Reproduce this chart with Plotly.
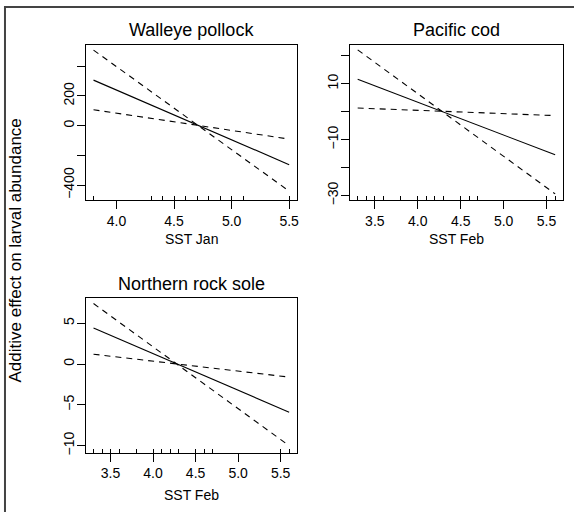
import plotly.graph_objects as go

# ---------------- data ----------------
species = ["Walleye pollock", "Pacific cod", "Northern rock sole"]
x_labels = ["SST Jan", "SST Feb", "SST Feb"]

# endpoints of the fitted linear terms (x, fit, upper/lower 2*SE bands)
x_pollock = [3.8, 5.5]
fit_pollock = [306, -262]
band_steep_pollock = [508, -440]
band_flat_pollock = [107, -90]

x_cod = [3.3, 5.6]
fit_cod = [11.6, -15.4]
band_steep_cod = [22.1, -29.4]
band_flat_cod = [1.3, -1.4]

x_sole = [3.3, 5.6]
fit_sole = [4.4, -5.9]
band_steep_sole = [7.4, -10.0]
band_flat_sole = [1.2, -1.6]

# rug (observed covariate values)
rug_jan = [3.8, 4.3, 4.4, 4.5, 4.6, 4.7, 4.8, 4.9, 5.0, 5.1, 5.5]
rug_feb = [3.3, 3.4, 3.5, 3.6, 3.8, 4.0, 4.1, 4.2, 4.3, 4.5, 4.6, 4.7, 5.5, 5.6]

# tick values / labels
xticks_jan = [4.0, 4.5, 5.0, 5.5]
xticks_feb = [3.5, 4.0, 4.5, 5.0, 5.5]
yticks_pollock = [-400, -200, 0, 200, 400]
ytext_pollock = ["\u2212400", "", "0", "200", ""]
yticks_cod = [-30, -20, -10, 0, 10, 20]
ytext_cod = ["\u221230", "", "\u221210", "", "10", ""]
yticks_sole = [-10, -5, 0, 5]
ytext_sole = ["\u221210", "\u22125", "0", "5"]

# axis ranges
xrange_jan = [3.732, 5.568]
xrange_feb = [3.208, 5.692]
yrange_pollock = [-500, 545]
yrange_cod = [-31.6, 24.0]
yrange_sole = [-10.84, 8.13]

# ---------------- layout geometry ----------------
W, H = 576, 517
def px_x(p): return p / W
def px_y(p): return 1 - p / H

dom = {
    1: ([px_x(86), px_x(298)], [px_y(202), px_y(45)]),
    2: ([px_x(351), px_x(565)], [px_y(202), px_y(45)]),
    3: ([px_x(86), px_x(298)], [px_y(457), px_y(300.5)]),
}

FONT = "Liberation Sans, Arial, Helvetica, sans-serif"
fig = go.Figure()

panels = [
    (1, x_pollock, fit_pollock, band_steep_pollock, band_flat_pollock),
    (2, x_cod, fit_cod, band_steep_cod, band_flat_cod),
    (3, x_sole, fit_sole, band_steep_sole, band_flat_sole),
]
for k, xs, fit, b1, b2 in panels:
    xa = "x" if k == 1 else f"x{k}"
    ya = "y" if k == 1 else f"y{k}"
    fig.add_trace(go.Scatter(x=xs, y=fit, mode="lines", xaxis=xa, yaxis=ya,
                             line=dict(color="black", width=1.1), showlegend=False, hoverinfo="skip"))
    for b in (b1, b2):
        fig.add_trace(go.Scatter(x=xs, y=b, mode="lines", xaxis=xa, yaxis=ya,
                                 line=dict(color="black", width=1.1, dash="6px,5px"),
                                 showlegend=False, hoverinfo="skip"))

tickfont = dict(family=FONT, size=14, color="black")

def xaxis_cfg(k, rng, ticks):
    return dict(domain=dom[k][0], anchor="y" if k == 1 else f"y{k}", range=rng,
                tickvals=ticks, ticktext=[f"{t:.1f}" for t in ticks],
                ticks="outside", ticklen=8, tickwidth=1, tickcolor="black",
                showline=True, linecolor="black", linewidth=1, mirror=True,
                showgrid=False, zeroline=False, tickfont=tickfont, fixedrange=True)

def yaxis_cfg(k, rng, vals, text):
    return dict(domain=dom[k][1], anchor="x" if k == 1 else f"x{k}", range=rng,
                tickvals=vals, ticktext=text, tickangle=-90, ticklabelstandoff=-3,
                ticks="outside", ticklen=8, tickwidth=1, tickcolor="black",
                showline=True, linecolor="black", linewidth=1, mirror=True,
                showgrid=False, zeroline=False, tickfont=tickfont, fixedrange=True)

def rug_cfg(k, rng, vals):
    return dict(domain=dom[k][0], anchor="y" if k == 1 else f"y{k}",
                overlaying="x" if k == 1 else f"x{k}", side="bottom", range=rng,
                tickvals=vals, showticklabels=False, ticks="inside", ticklen=4,
                tickwidth=1, tickcolor="black", showline=False, showgrid=False,
                zeroline=False, fixedrange=True)

fig.update_layout(
    width=W, height=H, margin=dict(l=0, r=0, t=0, b=0),
    paper_bgcolor="white", plot_bgcolor="white",
    xaxis=xaxis_cfg(1, xrange_jan, xticks_jan),
    xaxis2=xaxis_cfg(2, xrange_feb, xticks_feb),
    xaxis3=xaxis_cfg(3, xrange_feb, xticks_feb),
    yaxis=yaxis_cfg(1, yrange_pollock, yticks_pollock, ytext_pollock),
    yaxis2=yaxis_cfg(2, yrange_cod, yticks_cod, ytext_cod),
    yaxis3=yaxis_cfg(3, yrange_sole, yticks_sole, ytext_sole),
    xaxis4=rug_cfg(1, xrange_jan, rug_jan),
    xaxis5=rug_cfg(2, xrange_feb, rug_feb),
    xaxis6=rug_cfg(3, xrange_feb, rug_feb),
    showlegend=False,
)
# invisible traces so the rug axes are drawn
for i, (k, rng) in enumerate([(1, xrange_jan), (2, xrange_feb), (3, xrange_feb)]):
    fig.add_trace(go.Scatter(x=[rng[0]], y=[None], xaxis=f"x{4 + i}",
                             yaxis="y" if k == 1 else f"y{k}", mode="markers",
                             showlegend=False, hoverinfo="skip"))

ann = []
title_y = {1: px_y(30), 2: px_y(30), 3: px_y(287)}
xtitle_y = {1: px_y(241), 2: px_y(241), 3: px_y(500)}
for k in (1, 2, 3):
    cx = (dom[k][0][0] + dom[k][0][1]) / 2
    ann.append(dict(x=cx, y=title_y[k], xref="paper", yref="paper", text=species[k - 1],
                    showarrow=False, xanchor="center", yanchor="middle",
                    font=dict(family=FONT, size=18, color="black")))
    ann.append(dict(x=cx, y=xtitle_y[k], xref="paper", yref="paper", text=x_labels[k - 1],
                    showarrow=False, xanchor="center", yanchor="middle",
                    font=dict(family=FONT, size=14, color="black")))
ann.append(dict(x=px_x(16), y=px_y(253), xref="paper", yref="paper",
                text="Additive effect on larval abundance", textangle=-90,
                showarrow=False, xanchor="center", yanchor="middle",
                font=dict(family=FONT, size=17, color="black")))
fig.update_layout(annotations=ann)

fig.add_shape(type="path", xref="paper", yref="paper",
              path=f"M {px_x(5)},0 L {px_x(5)},{px_y(7)} L 1,{px_y(7)}",
              line=dict(color="#444444", width=2))

fig.write_html("out.html", config={"displayModeBar": False},
               post_script="document.body.style.margin='0';")
